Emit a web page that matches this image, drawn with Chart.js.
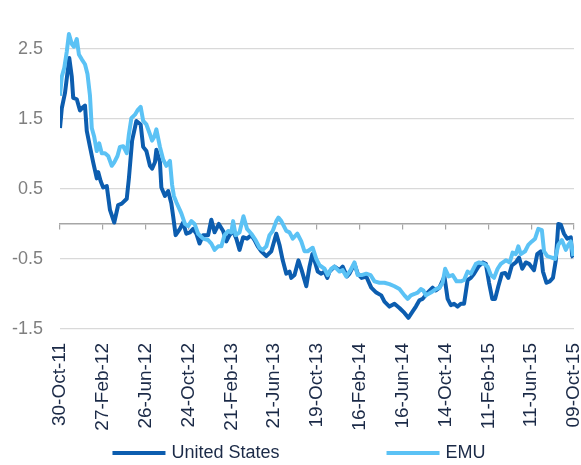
<!DOCTYPE html>
<html>
<head>
<meta charset="utf-8">
<script src="https://cdn.jsdelivr.net/npm/chart.js@4.4.1/dist/chart.umd.min.js"></script>
<style>
  html, body { margin: 0; padding: 0; background: #ffffff; }
  #wrap { width: 581px; height: 465px; position: relative; }
</style>
</head>
<body>
<div id="wrap"><canvas id="c" width="581" height="465"></canvas></div>
<script>
// ---- Data (x = days since 30-Oct-11) ----
const seriesNames = ['United States', 'EMU'];
const xTickLabels = ['30-Oct-11','27-Feb-12','26-Jun-12','24-Oct-12','21-Feb-13','21-Jun-13','19-Oct-13','16-Feb-14','16-Jun-14','14-Oct-14','11-Feb-15','11-Jun-15','09-Oct-15'];
const xTickStepDays = 120;
const yTickValues = [-1.5, -0.5, 0.5, 1.5, 2.5];

const usDays = [0,5,14,26,33,37,47,56,65,70,75,84,93,103,107,114,121,131,140,152,163,173,187,193,202,214,226,233,242,252,258,266,270,280,284,294,303,312,317,324,336,345,354,364,373,382,391,401,415,424,433,445,457,466,475,485,494,503,513,524,536,545,554,564,578,592,606,615,624,634,643,648,657,668,677,690,699,707,713,722,732,741,749,755,769,783,792,804,811,825,834,845,858,872,886,900,909,923,937,951,965,976,988,997,1007,1016,1030,1044,1053,1063,1077,1086,1095,1104,1114,1123,1132,1142,1151,1160,1172,1184,1193,1202,1211,1219,1228,1238,1247,1256,1266,1277,1286,1295,1305,1314,1328,1337,1347,1353,1363,1372,1381,1389,1396,1403,1412,1421,1431,1435,1438];
const usValues = [1.37,1.65,1.87,2.37,2.10,1.80,1.78,1.62,1.67,1.69,1.33,1.10,0.88,0.65,0.74,0.61,0.52,0.54,0.20,0.02,0.27,0.29,0.36,0.65,1.19,1.47,1.42,1.10,1.04,0.83,0.79,0.88,1.06,0.88,0.52,0.40,0.47,0.29,0.11,-0.16,-0.07,0.02,-0.14,-0.12,-0.07,-0.14,-0.28,-0.16,-0.16,0.06,-0.12,0.00,-0.10,-0.25,-0.16,-0.10,-0.21,-0.37,-0.19,-0.21,-0.16,-0.23,-0.32,-0.39,-0.46,-0.39,-0.14,-0.30,-0.52,-0.71,-0.68,-0.77,-0.73,-0.52,-0.66,-0.89,-0.61,-0.43,-0.52,-0.68,-0.71,-0.68,-0.77,-0.68,-0.61,-0.66,-0.61,-0.75,-0.71,-0.57,-0.71,-0.77,-0.75,-0.91,-0.98,-1.02,-1.11,-1.18,-1.14,-1.20,-1.27,-1.34,-1.25,-1.18,-1.09,-1.07,-0.98,-0.91,-0.95,-0.91,-0.75,-1.07,-1.16,-1.14,-1.18,-1.14,-1.14,-0.80,-0.77,-0.71,-0.61,-0.55,-0.57,-0.84,-1.07,-1.07,-0.89,-0.71,-0.70,-0.77,-0.59,-0.55,-0.48,-0.64,-0.55,-0.57,-0.66,-0.43,-0.39,-0.68,-0.84,-0.82,-0.77,-0.52,0.00,-0.01,-0.14,-0.21,-0.19,-0.46,-0.48];

const emuDays = [0,5,12,19,25,33,39,47,53,61,70,77,84,89,96,103,110,117,126,135,145,152,161,168,177,187,193,200,210,217,226,233,242,252,258,264,270,280,289,298,308,314,319,326,340,350,359,368,377,387,401,415,424,433,443,452,461,471,480,485,492,503,514,524,536,548,559,568,578,587,596,606,612,620,634,643,652,665,676,685,694,708,718,727,741,750,760,769,783,792,802,814,825,834,845,858,870,881,895,909,923,937,951,965,974,983,993,1002,1011,1018,1025,1039,1053,1063,1072,1079,1089,1100,1111,1123,1132,1142,1151,1165,1174,1188,1198,1207,1216,1226,1235,1249,1260,1268,1277,1284,1291,1303,1312,1322,1331,1340,1350,1356,1365,1378,1387,1396,1406,1417,1424,1431,1438];
const emuValues = [1.83,2.10,2.23,2.46,2.71,2.57,2.53,2.64,2.42,2.35,2.28,2.14,1.83,1.37,1.24,1.04,1.15,1.01,1.01,0.97,0.83,0.88,0.97,1.10,1.11,1.01,1.28,1.51,1.56,1.62,1.67,1.47,1.42,1.28,1.19,1.24,1.35,1.10,0.92,0.83,0.90,0.56,0.40,0.31,0.15,0.00,-0.03,0.04,0.00,-0.14,-0.21,-0.23,-0.28,-0.37,-0.32,-0.32,-0.16,-0.10,-0.12,0.04,-0.16,-0.12,0.11,-0.07,-0.14,-0.23,-0.34,-0.37,-0.32,-0.16,-0.10,0.04,0.09,0.04,-0.10,-0.12,-0.21,-0.14,-0.25,-0.39,-0.39,-0.34,-0.50,-0.59,-0.64,-0.73,-0.64,-0.61,-0.68,-0.66,-0.75,-0.66,-0.55,-0.73,-0.73,-0.71,-0.73,-0.82,-0.84,-0.84,-0.86,-0.89,-0.93,-1.02,-1.07,-1.02,-1.00,-0.98,-0.93,-0.95,-1.02,-0.98,-0.93,-0.91,-0.84,-0.64,-0.75,-0.73,-0.82,-0.82,-0.80,-0.68,-0.71,-0.57,-0.55,-0.57,-0.61,-0.73,-0.77,-0.64,-0.57,-0.52,-0.55,-0.41,-0.43,-0.32,-0.43,-0.39,-0.30,-0.25,-0.21,-0.07,-0.09,-0.39,-0.46,-0.48,-0.50,-0.30,-0.23,-0.37,-0.30,-0.25,-0.46];

// ---- Styles ----
const usColor = '#0C5DAF';
const emuColor = '#5BC2F5';
const textDark = '#1B2A47';
const FONT = '"Liberation Sans", Arial, sans-serif';

const toPoints = (xs, ys) => xs.map((d, i) => ({ x: d, y: ys[i] }));

const lineLegend = {
  id: 'lineLegend',
  afterDraw(chart) {
    const ctx = chart.ctx;
    const ds = chart.data.datasets;
    ctx.save();
    ctx.font = '18px ' + FONT;
    const lineLen = 53, gap = 6, spacing = 107;
    const widths = ds.map(d => lineLen + gap + ctx.measureText(d.label).width);
    const total = widths.reduce((a, b) => a + b, 0) + spacing * (ds.length - 1);
    let x = 299 - total / 2;
    const y = 453;
    ds.forEach((d, i) => {
      ctx.strokeStyle = d.borderColor;
      ctx.lineWidth = 4;
      ctx.lineCap = 'butt';
      ctx.beginPath();
      ctx.moveTo(x, y);
      ctx.lineTo(x + lineLen, y);
      ctx.stroke();
      ctx.fillStyle = textDark;
      ctx.textBaseline = 'middle';
      ctx.textAlign = 'left';
      ctx.fillText(d.label, x + lineLen + gap, y);
      x += widths[i] + spacing;
    });
    ctx.restore();
  }
};

const xTicksBuilder = s => { s.ticks = xTickLabels.map((_, i) => ({ value: i * xTickStepDays })); };

new Chart(document.getElementById('c'), {
  type: 'line',
  data: {
    datasets: [
      { label: seriesNames[0], data: toPoints(usDays, usValues), borderColor: usColor, backgroundColor: usColor, borderWidth: 4, pointRadius: 0, tension: 0, order: 2, borderJoinStyle: 'round' },
      { label: seriesNames[1], data: toPoints(emuDays, emuValues), borderColor: emuColor, backgroundColor: emuColor, borderWidth: 4, pointRadius: 0, tension: 0, order: 1, borderJoinStyle: 'round' }
    ]
  },
  options: {
    responsive: false,
    animation: false,
    layout: { padding: { left: 0, right: 7, top: 0, bottom: 34 } },
    plugins: { legend: { display: false }, tooltip: { enabled: false } },
    scales: {
      x: {
        type: 'linear', position: 'bottom', min: 0, max: 1440,
        afterBuildTicks: xTicksBuilder,
        afterFit: s => { s.height = 102; s.paddingLeft = 0; s.paddingRight = 0; },
        grid: { display: false, drawTicks: false },
        border: { display: false },
        ticks: {
          autoSkip: false, minRotation: 90, maxRotation: 90, padding: 14,
          color: textDark, font: { family: FONT, size: 19 },
          callback: (v) => xTickLabels[Math.round(v / xTickStepDays)]
        }
      },
      x2: {
        type: 'linear', position: { y: 0 }, min: 0, max: 1440,
        afterBuildTicks: xTicksBuilder,
        afterFit: s => { s.paddingLeft = 0; s.paddingRight = 0; },
        grid: { drawOnChartArea: false, drawTicks: true, tickLength: 5, color: '#A6A6A6', lineWidth: 1.2 },
        border: { display: true, color: '#A6A6A6', width: 1.5 },
        ticks: { display: false }
      },
      y: {
        type: 'linear', min: -1.5, max: 2.8,
        afterBuildTicks: s => { s.ticks = yTickValues.map(v => ({ value: v })); },
        afterFit: s => { s.width = 60; },
        grid: { color: '#D9D9D9', lineWidth: 1.2, drawTicks: false },
        border: { display: false },
        ticks: {
          padding: 17, color: '#7F7F7F', font: { family: FONT, size: 18 },
          callback: v => String(v)
        }
      }
    }
  },
  plugins: [lineLegend]
});
</script>
</body>
</html>
